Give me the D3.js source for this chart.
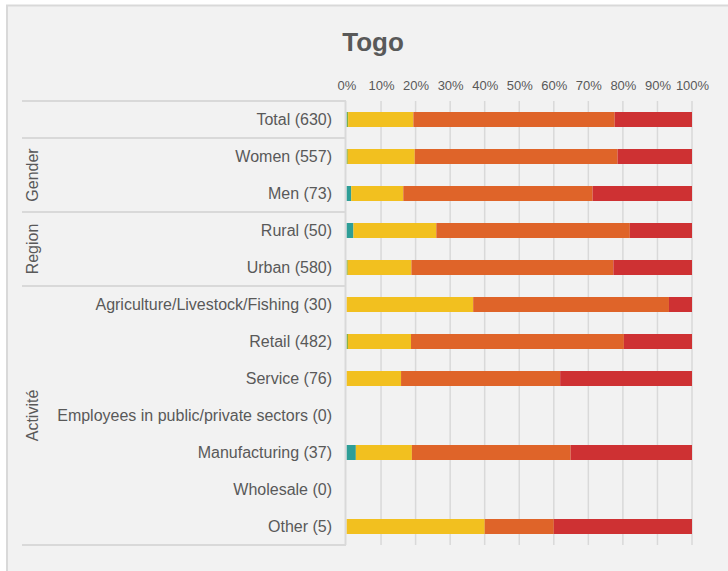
<!DOCTYPE html>
<html>
<head>
<meta charset="utf-8">
<script src="https://cdn.jsdelivr.net/npm/d3@7/dist/d3.min.js"></script>
<style>
  html, body { margin: 0; padding: 0; background: #ffffff; }
  svg { display: block; font-family: "Liberation Sans", Arial, sans-serif; }
</style>
</head>
<body>
<svg id="chart" width="728" height="571"></svg>
<script>
// Respondent rows, top to bottom
const rowLabels = [
  "Total (630)", "Women (557)", "Men (73)", "Rural (50)", "Urban (580)",
  "Agriculture/Livestock/Fishing (30)", "Retail (482)", "Service (76)",
  "Employees in public/private sectors (0)", "Manufacturing (37)",
  "Wholesale (0)", "Other (5)"
];

// Group bands on the left: name and row span
const groupNames = ["Gender", "Region", "Activité"];
const groupStart = [1, 3, 5];
const groupEnd   = [2, 4, 11];

// Response counts per row for each answer category
const seriesKeys = ["teal", "green", "yellow", "orange", "red"];
const tealCounts   = [1,   0,   1,  1,   0,   0,   0,  0, 0,  1, 0, 0];
const greenCounts  = [2,   2,   0,  0,   2,   0,   2,  0, 0,  0, 0, 0];
const yellowCounts = [119, 108, 11, 12,  107, 11,  88, 12, 0, 6, 0, 2];
const orangeCounts = [367, 327, 40, 28,  339, 17, 297, 35, 0, 17, 0, 1];
const redCounts    = [141, 120, 21, 9,   132, 2,   95, 29, 0, 13, 0, 2];

const tickValues = [0, 0.1, 0.2, 0.3, 0.4, 0.5, 0.6, 0.7, 0.8, 0.9, 1];

const colors = {
  teal: "#2e9e97",
  green: "#7aae3c",
  yellow: "#f2c01f",
  orange: "#df6429",
  red: "#ce3133"
};

const rows = rowLabels.map((label, i) => ({
  label,
  teal: tealCounts[i],
  green: greenCounts[i],
  yellow: yellowCounts[i],
  orange: orangeCounts[i],
  red: redCounts[i]
}));

const svg = d3.select("#chart");
const W = 728, H = 571;

// Panel background with border
svg.append("rect").attr("x", 7).attr("y", 5.5).attr("width", W).attr("height", H)
  .attr("fill", "#f2f2f2").attr("stroke", "#d9d9d9").attr("stroke-width", 2);

// Title
svg.append("text").attr("x", 373).attr("y", 51).attr("text-anchor", "middle")
  .attr("font-size", 26).attr("font-weight", "bold").attr("fill", "#595959")
  .text("Togo");

const plotLeft = 346.5, plotRight = 692, plotTop = 101, plotBottom = 545;

const x = d3.scaleLinear().domain([0, 1]).range([plotLeft, plotRight]);
const y = d3.scaleBand().domain(d3.range(rows.length))
  .range([plotTop, plotBottom]).paddingInner(0.595).paddingOuter(0.2975);

// Vertical gridlines
svg.append("g").selectAll("line").data(tickValues.slice(1)).join("line")
  .attr("x1", d => x(d)).attr("x2", d => x(d))
  .attr("y1", plotTop).attr("y2", plotBottom)
  .attr("stroke", "#d9d9d9").attr("stroke-width", 1.5);

// Percent axis on top
const axis = svg.append("g").attr("transform", `translate(0,${plotTop - 11})`)
  .call(d3.axisTop(x).tickValues(tickValues).tickFormat(d3.format(".0%")).tickSize(0).tickPadding(0));
axis.select(".domain").remove();
axis.selectAll("text").attr("font-size", 13).attr("fill", "#595959")
  .attr("font-family", "Liberation Sans, Arial, sans-serif");

// Stacked, normalised bars
const stacked = d3.stack().keys(seriesKeys).offset(d3.stackOffsetExpand)(rows);
svg.append("g").selectAll("g").data(stacked).join("g")
  .attr("fill", d => colors[d.key])
  .selectAll("rect").data(d => d.map((v, i) => ({ v, i }))).join("rect")
  .attr("x", d => x(d.v[0]))
  .attr("width", d => Math.max(0, x(d.v[1]) - x(d.v[0])))
  .attr("y", d => y(d.i))
  .attr("height", y.bandwidth());

// Category axis line
svg.append("line").attr("x1", 345.5).attr("x2", 345.5)
  .attr("y1", plotTop).attr("y2", plotBottom)
  .attr("stroke", "#d9d9d9").attr("stroke-width", 2);

// Row labels
svg.append("g").selectAll("text").data(rowLabels).join("text")
  .attr("x", 332).attr("y", (d, i) => y(i) + y.bandwidth() / 2)
  .attr("dy", "0.35em").attr("text-anchor", "end")
  .attr("font-size", 16).attr("fill", "#595959")
  .text(d => d);

// Group separator lines on the left
const step = y.step();
const sepRows = [0, 1, 3, 5, 12];
svg.append("g").selectAll("line").data(sepRows).join("line")
  .attr("x1", 22).attr("x2", 346)
  .attr("y1", d => plotTop + d * step).attr("y2", d => plotTop + d * step)
  .attr("stroke", "#d9d9d9").attr("stroke-width", 2);

// Rotated group names
svg.append("g").selectAll("text").data(groupNames).join("text")
  .attr("transform", (d, i) => {
    const cy = plotTop + ((groupStart[i] + groupEnd[i] + 1) / 2) * step;
    return `translate(32,${cy}) rotate(-90)`;
  })
  .attr("dy", "0.35em").attr("text-anchor", "middle")
  .attr("font-size", 16).attr("fill", "#595959")
  .text(d => d);
</script>
</body>
</html>
